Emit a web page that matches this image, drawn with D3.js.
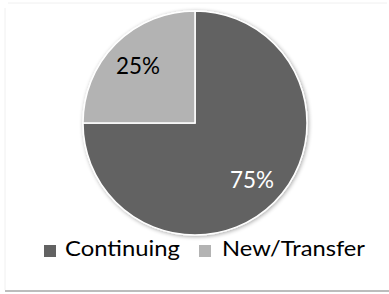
<!DOCTYPE html>
<html>
<head>
<meta charset="utf-8">
<script src="https://cdn.jsdelivr.net/npm/d3@7"></script>
<style>
  html, body { margin: 0; padding: 0; background: #fff; }
  svg { display: block; }
  text { font-family: Lato, "Open Sans", sans-serif; }
</style>
</head>
<body>
<script>
const W = 389;
const H = 294;

const categories = ["Continuing", "New/Transfer"];
const values = [75, 25];
const labels = ["75%", "25%"];
const colors = ["#626262", "#b3b3b3"];
const labelColors = ["#ffffff", "#000000"];

const svg = d3.select("body").append("svg")
  .attr("width", W)
  .attr("height", H);

// chart frame (faint, with a darker bottom edge)
svg.append("line").attr("x1", 8).attr("x2", W - 2).attr("y1", 3).attr("y2", 3)
  .attr("stroke", "#f0f0f0").attr("stroke-width", 1);
svg.append("line").attr("x1", 5).attr("x2", 5).attr("y1", 8).attr("y2", H - 4)
  .attr("stroke", "#f0f0f0").attr("stroke-width", 1);
svg.append("line").attr("x1", 5).attr("x2", W).attr("y1", 291).attr("y2", 291)
  .attr("stroke", "#a6a6a6").attr("stroke-width", 1.5);

const defs = svg.append("defs");
const shadow = defs.append("filter").attr("id", "shadow")
  .attr("x", "-10%").attr("y", "-10%").attr("width", "120%").attr("height", "120%");
shadow.append("feGaussianBlur").attr("in", "SourceAlpha").attr("stdDeviation", 2);
shadow.append("feOffset").attr("dx", 1).attr("dy", 1).attr("result", "b");
shadow.append("feComponentTransfer").append("feFuncA").attr("type", "linear").attr("slope", 0.35);
const merge = shadow.append("feMerge");
merge.append("feMergeNode");
merge.append("feMergeNode").attr("in", "SourceGraphic");

const cx = 195, cy = 123, r = 112;

const pie = d3.pie().sort(null).value((d) => d.value);
const arcs = pie(categories.map((c, i) => ({ name: c, value: values[i], i })));

const arc = d3.arc().innerRadius(0).outerRadius(r);
const labelArc = d3.arc().innerRadius(r * 0.72).outerRadius(r * 0.72);

const g = svg.append("g").attr("transform", `translate(${cx},${cy})`);

g.append("g").attr("filter", "url(#shadow)")
  .selectAll("path")
  .data(arcs)
  .join("path")
  .attr("d", arc)
  .attr("fill", (d) => colors[d.data.i])
  .attr("stroke", "#ffffff")
  .attr("stroke-width", 1.5);

g.selectAll("text.lbl")
  .data(arcs)
  .join("text")
  .attr("class", "lbl")
  .attr("transform", (d) => {
    const [x, y] = labelArc.centroid(d);
    return `translate(${x},${y + 8})`;
  })
  .attr("text-anchor", "middle")
  .attr("font-size", 23)
  .attr("textLength", 44)
  .attr("lengthAdjust", "spacingAndGlyphs")
  .attr("fill", (d) => labelColors[d.data.i])
  .text((d) => labels[d.data.i]);

// legend
const legendX = [44, 199];
const legendW = [115, 143];
const legend = svg.append("g").selectAll("g")
  .data(categories)
  .join("g")
  .attr("transform", (d, i) => `translate(${legendX[i]},245)`);

legend.append("rect")
  .attr("width", 12).attr("height", 12)
  .attr("fill", (d, i) => colors[i]);

legend.append("text")
  .attr("x", (d, i) => (i === 0 ? 21 : 23))
  .attr("y", 11)
  .attr("font-size", 20.5)
  .attr("textLength", (d, i) => legendW[i])
  .attr("lengthAdjust", "spacingAndGlyphs")
  .attr("fill", "#000")
  .text((d) => d);
</script>
</body>
</html>
